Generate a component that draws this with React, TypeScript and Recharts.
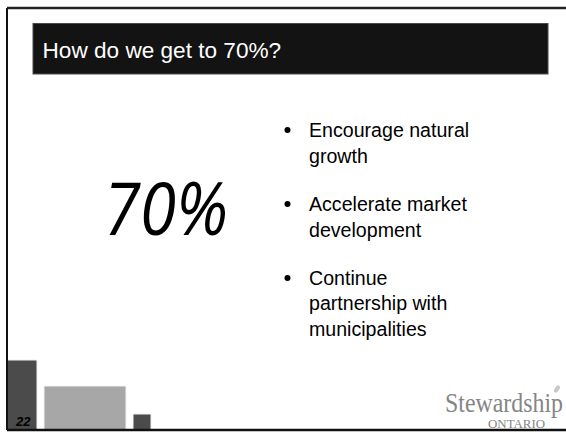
import React from "react";
import { ComposedChart, XAxis, YAxis, ReferenceArea, ReferenceLine } from "recharts";

// Decorative footer bars (in slide units: x from the left rule, y from the bottom rule)
const barNames = ["a", "b", "c"];
const barStart = [0, 37, 126];
const barEnd = [30, 119, 144];
const barHeight = [70, 44, 16];
const barColors = ["#4b4b4b", "#a7a7a7", "#4b4b4b"];

const titleText = "How do we get to 70%?";
const bigValue = "70%";
const slideNumber = "22";
const bullets: string[][] = [
  ["Encourage natural", "growth"],
  ["Accelerate market", "development"],
  ["Continue", "partnership with", "municipalities"],
];
const logoMain = "Stewardship";
const logoSub = "ONTARIO";

const W = 566;
const H = 433;

export default function App() {
  const bulletBaselines = [
    [136.5, 162.5],
    [210.5, 236.5],
    [284.5, 310, 336],
  ];
  return (
    <div style={{ position: "absolute", left: 0, top: 0, width: W, height: H, background: "#fff" }}>
      <ComposedChart
        width={W}
        height={H}
        data={[]}
        margin={{ top: 8, right: 0, bottom: 3, left: 7 }}
        style={{ position: "absolute", left: 0, top: 0 }}
      >
        <XAxis type="number" dataKey="x" domain={[0, 559]} hide allowDataOverflow />
        <YAxis type="number" domain={[0, 422]} hide allowDataOverflow />
        {barNames.map((n, i) => (
          <ReferenceArea
            key={n}
            x1={barStart[i]}
            x2={barEnd[i]}
            y1={0}
            y2={barHeight[i]}
            fill={barColors[i]}
            fillOpacity={1}
            stroke="#f2f2f2"
            strokeWidth={1}
            ifOverflow="visible"
          />
        ))}
        <ReferenceLine x={0} stroke="#111" strokeWidth={2} ifOverflow="visible" />
        <ReferenceLine y={422} stroke="#222" strokeWidth={2.5} ifOverflow="visible" />
        <ReferenceLine y={0} stroke="#111" strokeWidth={2.5} ifOverflow="visible" />
      </ComposedChart>
      <svg
        width={W}
        height={H}
        style={{ position: "absolute", left: 0, top: 0, pointerEvents: "none" }}
      >
        <rect x={33} y={23.5} width={515} height={50.5} fill="#131313" stroke="#4a4a4a" strokeWidth={1} />
        <text
          x={42.5}
          y={58}
          fill="#ffffff"
          fontFamily="'Liberation Sans', Arial, sans-serif"
          fontSize={22.6}
        >
          {titleText}
        </text>
        <text
          x={104}
          y={235}
          fill="#000"
          fontFamily="'Open Sans', 'Noto Sans', sans-serif"
          fontStyle="italic"
          fontSize={74}
          textLength={124}
          lengthAdjust="spacingAndGlyphs"
        >
          {bigValue}
        </text>
        {bullets.map((lines, bi) => (
          <g key={bi}>
            <circle cx={287.5} cy={bulletBaselines[bi][0] - 6.5} r={3} fill="#000" />
            {lines.map((ln, li) => (
              <text
                key={li}
                x={309}
                y={bulletBaselines[bi][li]}
                fill="#000"
                fontFamily="'Liberation Sans', Arial, sans-serif"
                fontSize={19.6}
              >
                {ln}
              </text>
            ))}
          </g>
        ))}
        <text
          x={16}
          y={425.5}
          fill="#000"
          fontFamily="'Liberation Sans', Arial, sans-serif"
          fontWeight="bold"
          fontStyle="italic"
          fontSize={13}
        >
          {slideNumber}
        </text>
        <g transform="translate(445 411.5) scale(1 1.15)">
          <text
            x={0}
            y={0}
            fill="#858585"
            fontFamily="'Liberation Serif', 'Times New Roman', serif"
            fontSize={23.8}
            textLength={118}
            lengthAdjust="spacingAndGlyphs"
          >
            {logoMain}
          </text>
        </g>
        <text
          x={488}
          y={427.5}
          fill="#858585"
          fontFamily="'Liberation Serif', 'Times New Roman', serif"
          fontSize={13.5}
          textLength={57}
          lengthAdjust="spacingAndGlyphs"
        >
          {logoSub}
        </text>
        <ellipse cx={557} cy={389} rx={2.2} ry={4} fill="#c8c8c8" transform="rotate(35 557 389)" />
      </svg>
    </div>
  );
}
